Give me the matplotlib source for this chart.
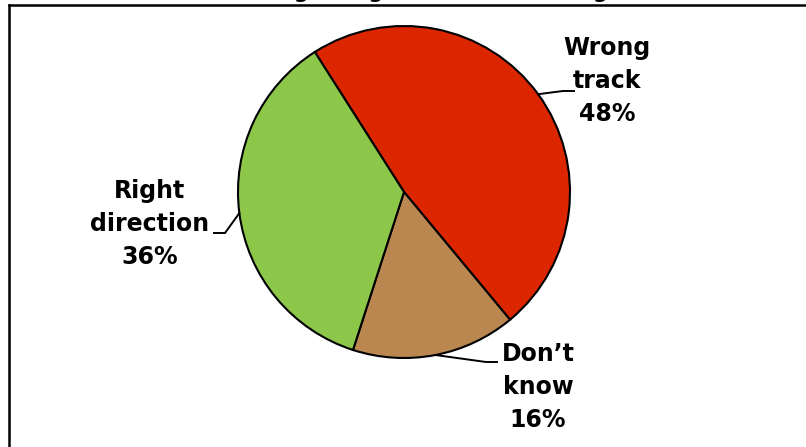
import matplotlib.pyplot as plt
import numpy as np

# Data
labels = ["Wrong\ntrack", "Don\u2019t\nknow", "Right\ndirection"]
shares = [48, 16, 36]
colors = ["#DC2600", "#B9874F", "#8DC74A"]

W, H = 806, 447
fig = plt.figure(figsize=(W / 100, H / 100), dpi=100)
ax = fig.add_axes([0, 0, 1, 1])

cx, cy, r = 404, H - 192, 166
wedges, _ = ax.pie(shares, colors=colors, startangle=122.5, counterclock=False,
                   center=(cx, cy), radius=r, frame=True,
                   wedgeprops=dict(edgecolor="black", linewidth=1.5))
ax.set_xlim(0, W)
ax.set_ylim(0, H)
ax.set_aspect("auto")
ax.axis("off")

# label centres (pixels, y from top), where the leader meets the text,
# and the leader's vertical offset from the label centre
label_pos = [(607, 81), (538, 387), (150, 224)]
text_side = [-33, -41, 64]
leader_dy = [10, -25, 9]

for w, (lx, ly), pct, lab, side, dy in zip(wedges, label_pos, shares, labels,
                                            text_side, leader_dy):
    ang = np.deg2rad((w.theta1 + w.theta2) / 2)
    px, py = cx + r * np.cos(ang), cy + r * np.sin(ang)
    ax.text(lx, H - ly, f"{lab}\n{pct}%", ha="center", va="center",
            fontsize=17, fontweight="bold", linespacing=1.48)
    tx = lx + side
    ty = H - ly - dy
    ex = tx - 11 if side < 0 else tx + 11
    ax.plot([px, ex, tx], [py, ty, ty], color="black", linewidth=1.4)

# frame border (runs off the right and bottom edges)
ax.plot([9, W], [H - 5, H - 5], color="black", linewidth=1.8)
ax.plot([9, 9], [H - 5, 0], color="black", linewidth=1.8)

# title, mostly cut off at the top edge as in the source
ax.text(424, H - 2, "State Going in Right Direction/Wrong Track", ha="center",
        va="bottom", fontsize=15, fontweight="bold", clip_on=False)

fig.savefig("out.png", dpi=100)
